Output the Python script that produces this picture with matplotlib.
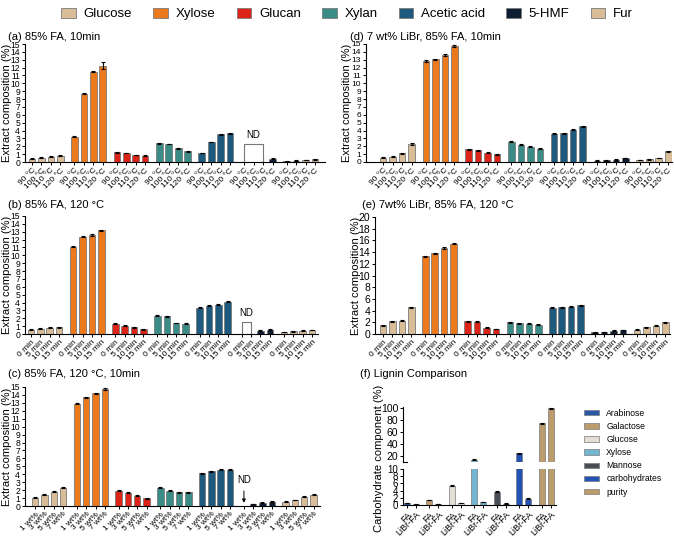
import numpy as np
import matplotlib
matplotlib.use("Agg")
import matplotlib.pyplot as plt
from matplotlib.patches import Patch

plt.rcParams['font.family'] = ['Liberation Sans', 'DejaVu Sans']

W, H = 674, 536

components = ['Glucose', 'Xylose', 'Glucan', 'Xylan', 'Acetic acid', '5-HMF', 'Fur']
comp_colors = ['#d8bd98', '#ec7a1c', '#dc2419', '#3b8c86', '#1d5a7e', '#0f1d33', '#d8bd98']

temp_labels = ['90 °C', '100 °C', '110 °C', '120 °C']
time_labels = ['0 min', '5 min', '10 min', '15 min']
libr_labels = ['1 wt%', '3 wt%', '5 wt%', '7 wt%']

# (a) 85% FA, 10 min  (None = not detected)
a_values = [
    [0.40, 0.55, 0.65, 0.80],
    [3.20, 8.70, 11.50, 12.25],
    [1.25, 1.15, 0.90, 0.80],
    [2.40, 2.30, 1.75, 1.35],
    [1.15, 2.55, 3.50, 3.65],
    [None, None, None, 0.40],
    [0.10, 0.15, 0.25, 0.35],
]
a_errors = [
    [0.05, 0.05, 0.05, 0.05],
    [0.05, 0.05, 0.08, 0.40],
    [0.05, 0.05, 0.05, 0.05],
    [0.05, 0.05, 0.05, 0.05],
    [0.05, 0.05, 0.05, 0.05],
    [0.0, 0.0, 0.0, 0.05],
    [0.05, 0.05, 0.05, 0.05],
]
# (d) 7 wt% LiBr, 85% FA, 10 min
d_values = [
    [0.55, 0.65, 1.10, 2.30],
    [12.80, 13.05, 13.60, 14.75],
    [1.60, 1.50, 1.20, 1.00],
    [2.60, 2.20, 1.95, 1.70],
    [3.60, 3.65, 4.10, 4.55],
    [0.15, 0.20, 0.30, 0.50],
    [0.25, 0.35, 0.50, 1.35],
]
d_errors = [
    [0.05, 0.05, 0.05, 0.08],
    [0.12, 0.10, 0.08, 0.08],
    [0.06, 0.06, 0.06, 0.06],
    [0.06, 0.06, 0.06, 0.06],
    [0.06, 0.06, 0.06, 0.06],
    [0.05, 0.05, 0.05, 0.05],
    [0.05, 0.05, 0.05, 0.06],
]
# (b) 85% FA, 120 °C
b_values = [
    [0.55, 0.65, 0.80, 0.85],
    [11.10, 12.35, 12.60, 13.20],
    [1.30, 1.05, 0.85, 0.60],
    [2.35, 2.25, 1.40, 1.30],
    [3.35, 3.60, 3.70, 4.10],
    [None, None, 0.40, 0.55],
    [0.25, 0.35, 0.40, 0.50],
]
b_errors = [
    [0.05, 0.05, 0.05, 0.05],
    [0.08, 0.08, 0.08, 0.08],
    [0.06, 0.06, 0.06, 0.06],
    [0.06, 0.06, 0.06, 0.06],
    [0.06, 0.06, 0.06, 0.06],
    [0.0, 0.0, 0.05, 0.05],
    [0.05, 0.05, 0.05, 0.05],
]
# (e) 7 wt% LiBr, 85% FA, 120 °C
e_values = [
    [1.50, 2.20, 2.30, 4.60],
    [13.25, 13.80, 14.70, 15.40],
    [2.20, 2.10, 1.05, 0.85],
    [2.00, 1.85, 1.75, 1.60],
    [4.50, 4.60, 4.70, 4.90],
    [0.30, 0.35, 0.55, 0.70],
    [0.75, 1.15, 1.40, 2.00],
]
e_errors = [
    [0.08, 0.08, 0.08, 0.08],
    [0.10, 0.10, 0.10, 0.10],
    [0.08, 0.08, 0.08, 0.08],
    [0.08, 0.08, 0.08, 0.08],
    [0.08, 0.08, 0.08, 0.08],
    [0.06, 0.06, 0.06, 0.06],
    [0.06, 0.06, 0.06, 0.08],
]
# (c) 85% FA, 120 °C, 10 min, LiBr loading
c_values = [
    [1.05, 1.40, 1.80, 2.30],
    [12.90, 13.70, 14.20, 14.75],
    [1.90, 1.65, 1.30, 1.00],
    [2.30, 1.90, 1.75, 1.75],
    [4.15, 4.35, 4.60, 4.60],
    [None, 0.25, 0.40, 0.55],
    [0.55, 0.75, 1.15, 1.40],
]
c_errors = [
    [0.06, 0.06, 0.06, 0.06],
    [0.08, 0.08, 0.08, 0.08],
    [0.06, 0.06, 0.06, 0.06],
    [0.06, 0.06, 0.06, 0.06],
    [0.06, 0.06, 0.06, 0.06],
    [0.0, 0.05, 0.05, 0.05],
    [0.05, 0.05, 0.05, 0.05],
]

# (f) Lignin comparison
f_categories = ['Arabinose', 'Galactose', 'Glucose', 'Xylose', 'Mannose', 'carbohydrates', 'purity']
f_colors = ['#2a57a8', '#bb9c6c', '#e4dfd5', '#72b6d1', '#4b4e56', '#2452b2', '#bb9c6c']
f_labels = ['FA', 'LiBr-FA']
f_values = [
    [0.60, 0.20],
    [1.40, 0.20],
    [5.40, 0.50],
    [13.50, 0.80],
    [3.70, 0.40],
    [24.50, 1.80],
    [74.0, 99.0],
]
f_errors = [
    [0.08, 0.08],
    [0.08, 0.05],
    [0.10, 0.08],
    [0.8, 0.10],
    [0.10, 0.08],
    [0.8, 0.15],
    [0.6, 0.5],
]

fig = plt.figure(figsize=(W / 100, H / 100), dpi=100)


def add_axes_px(left, right, top, bottom):
    return fig.add_axes([left / W, 1 - bottom / H, (right - left) / W, (bottom - top) / H])


GROUP_PITCH = 4.5
BAR_W = 0.7


def draw_panel(ax, values, errors, labels, ymax, ystep, xlim, label_x_px, left_px, width_px,
               ytick_fs=6.5):
    positions = []
    ticklabels = []
    for g, (vals, errs) in enumerate(zip(values, errors)):
        for j, (v, e) in enumerate(zip(vals, errs)):
            x = g * GROUP_PITCH + j
            positions.append(x)
            ticklabels.append(labels[j])
            if v is None:
                continue
            ax.bar(x, v, width=BAR_W, color=comp_colors[g], edgecolor='#7a7a7a',
                   linewidth=0.6, zorder=2)
            ax.errorbar(x, v, yerr=e, fmt='none', ecolor='black', elinewidth=0.8,
                        capsize=1.6, capthick=0.8, zorder=3)
    ax.set_xticks(positions)
    ax.set_xticklabels(ticklabels, rotation=45, ha='right', rotation_mode='anchor',
                       fontsize=6)
    ax.set_xlim(*xlim)
    ax.set_ylim(0, ymax)
    ax.set_yticks(np.arange(0, ymax + 0.01, ystep))
    ax.tick_params(axis='y', labelsize=ytick_fs, length=2.5, width=0.7, pad=1)
    ax.tick_params(axis='x', length=2.5, width=0.7, pad=1)
    for s in ['top', 'right']:
        ax.spines[s].set_visible(False)
    for s in ['left', 'bottom']:
        ax.spines[s].set_linewidth(0.8)
    ax.set_ylabel('Extract composition (%)', fontsize=8)
    ax.yaxis.set_label_coords((label_x_px - left_px) / width_px, 0.5)
    ax.yaxis.label.set_va('center')
    return positions


def nd_box(ax, x0, x1, h, label_y):
    ax.plot([x0, x0, x1, x1], [0, h, h, 0], color='#777777', lw=0.8, zorder=2)
    ax.text((x0 + x1) / 2, label_y, 'ND', ha='center', va='bottom', fontsize=7)


TITLE_FS = 8

# (a)
ax_a = add_axes_px(25, 325, 44, 162)
draw_panel(ax_a, a_values, a_errors, temp_labels, 15, 1, (-0.74, 31.06), 7, 25, 300,
           ytick_fs=6.2)
nd_box(ax_a, 5 * GROUP_PITCH, 5 * GROUP_PITCH + 2, 2.3, 2.8)
fig.text(8 / W, 1 - 37 / H, '(a) 85% FA, 10min', fontsize=TITLE_FS, va='center')

# (d)
ax_d = add_axes_px(366, 672, 44, 162)
draw_panel(ax_d, d_values, d_errors, temp_labels, 15, 1, (-1.8, 30.4), 347.5, 366, 306,
           ytick_fs=6)
fig.text(350 / W, 1 - 37 / H, '(d) 7 wt% LiBr, 85% FA, 10min', fontsize=TITLE_FS, va='center')

# (b)
ax_b = add_axes_px(25, 318, 216, 334)
draw_panel(ax_b, b_values, b_errors, time_labels, 15, 1, (-0.64, 30.64), 7, 25, 293,
           ytick_fs=6.2)
nd_box(ax_b, 5 * GROUP_PITCH, 5 * GROUP_PITCH + 1, 1.5, 2.0)
fig.text(8 / W, 1 - 205 / H, '(b) 85% FA, 120 °C', fontsize=TITLE_FS, va='center')

# (e)
ax_e = add_axes_px(375, 670, 217, 334)
draw_panel(ax_e, e_values, e_errors, time_labels, 20, 2, (-0.85, 30.5), 356, 375, 295,
           ytick_fs=7.5)
fig.text(362 / W, 1 - 205 / H, '(e) 7wt% LiBr, 85% FA, 120 °C', fontsize=TITLE_FS, va='center')

# (c)
ax_c = add_axes_px(25, 320, 387, 506)
draw_panel(ax_c, c_values, c_errors, libr_labels, 15, 1, (-1.1, 30.7), 7, 25, 295,
           ytick_fs=6.2)
ax_c.annotate('ND', xy=(5 * GROUP_PITCH, 0.05), xytext=(5 * GROUP_PITCH, 2.6),
              ha='center', va='bottom', fontsize=7,
              arrowprops=dict(arrowstyle='-|>', color='black', lw=0.7,
                              mutation_scale=5))
fig.text(8 / W, 1 - 374 / H, '(c) 85% FA, 120 °C, 10min', fontsize=TITLE_FS, va='center')

# (f) broken axis
F_PITCH = 2.44
ax_fu = add_axes_px(403, 556, 407, 462)
ax_fl = add_axes_px(403, 556, 469, 505)
f_pos = []
f_ticklabels = []
for g, (vals, errs) in enumerate(zip(f_values, f_errors)):
    for j, (v, e) in enumerate(zip(vals, errs)):
        x = g * F_PITCH + j
        f_pos.append(x)
        f_ticklabels.append(f_labels[j])
        for ax in (ax_fu, ax_fl):
            ax.bar(x, v, width=0.65, color=f_colors[g], edgecolor='#7a7a7a',
                   linewidth=0.5, zorder=2)
            ax.errorbar(x, v, yerr=e, fmt='none', ecolor='black', elinewidth=0.8,
                        capsize=1.6, capthick=0.8, zorder=3)
for ax in (ax_fu, ax_fl):
    ax.set_xlim(-0.4, 16.2)
    for s in ['top', 'right']:
        ax.spines[s].set_visible(False)
ax_fu.tick_params(axis='y', labelsize=7.5, length=2.5, width=0.7, pad=1)
ax_fl.tick_params(axis='y', labelsize=7, length=2.5, width=0.7, pad=1)
ax_fu.set_ylim(10, 101)
ax_fu.set_yticks([20, 40, 60, 80, 100])
ax_fu.spines['bottom'].set_visible(False)
ax_fu.set_xticks([])
ax_fu.plot([-0.4, 0.0], [10, 10], color='black', lw=0.8, clip_on=False)
ax_fl.set_ylim(0, 10)
ax_fl.set_yticks([0, 2, 4, 6, 8, 10])
ax_fl.set_xticks(f_pos)
ax_fl.set_xticklabels(f_ticklabels, rotation=45, ha='right', rotation_mode='anchor',
                      fontsize=6.5)
ax_fl.tick_params(axis='x', length=2.5, width=0.7, pad=1)
fig.text(379 / W, 1 - 458 / H, 'Carbohydrate component (%)', rotation=90,
         fontsize=8, ha='center', va='center')
fig.text(360 / W, 1 - 374 / H, '(f) Lignin Comparison', fontsize=TITLE_FS, va='center')

f_handles = [Patch(facecolor=c, edgecolor='#7a7a7a', linewidth=0.5) for c in f_colors]
fig.legend(f_handles, f_categories, loc='upper left', bbox_to_anchor=(576 / W, 1 - 401 / H),
           frameon=False, fontsize=6.2, handlelength=1.8, handleheight=0.6,
           labelspacing=0.48, handletextpad=0.8)

# top legend
top_handles = [Patch(facecolor=c, edgecolor='#7a7a7a', linewidth=0.6) for c in comp_colors]
fig.legend(top_handles, components, loc='upper center', bbox_to_anchor=(0.515, 1.008),
           ncol=7, frameon=False, fontsize=9.5, handlelength=1.1, handleheight=0.8,
           columnspacing=1.6, handletextpad=0.6)

fig.savefig('out.png', dpi=100)
